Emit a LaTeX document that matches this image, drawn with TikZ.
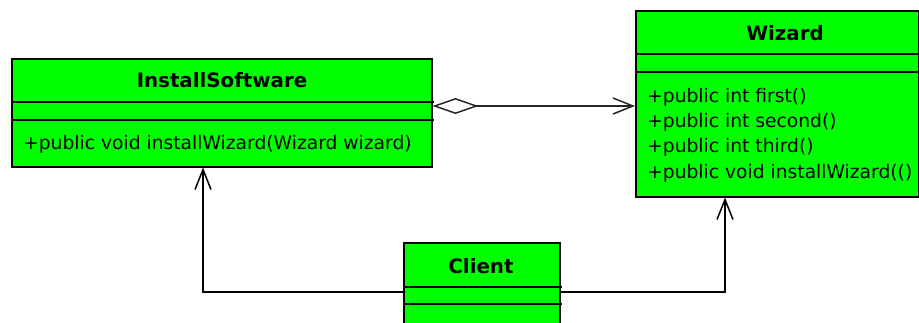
\documentclass[tikz,border=0pt]{standalone}
\usepackage{fontspec}
\setmainfont{DejaVu Sans}
\usetikzlibrary{arrows.meta}
\definecolor{umlgreen}{RGB}{0,255,0}
\begin{document}
\begin{tikzpicture}[x=1pt,y=-1pt,
  classbox/.style={draw=black, fill=umlgreen, line width=1.5pt, rectangle, inner sep=0pt, anchor=north west},
  classname/.style={font=\fontsize{19.8}{23}\selectfont\bfseries, inner sep=0pt},
  member/.style={font=\fontsize{18.7}{25}\selectfont, anchor=west, inner sep=0pt},
  divider/.style={line width=1.5pt},
  assoc/.style={line width=1.5pt, -{Straight Barb[length=20pt,width=16pt]}},
  aggr/.style={line width=1.5pt, draw=black!85, {Diamond[open,length=46pt,width=16pt]}-{Straight Barb[length=20pt,width=16pt]}}
]
\useasboundingbox (0,0) rectangle (919,322);
\clip (0,0) rectangle (919,322);

% InstallSoftware
\node[classbox, minimum width=420pt, minimum height=108pt] (is) at (11,58) {};
\node[classname] (isname) at (222,80) {InstallSoftware};
\draw[divider] (11,102) -- (434,102);
\draw[divider] (11,120) -- (434,120);
\node[member] (ism) at (23,144) {+public void installWizard(Wizard wizard)};

% Wizard
\node[classbox, minimum width=283pt, minimum height=186pt] (wz) at (635,10) {};
\node[classname] (wzname) at (785,33) {Wizard};
\draw[divider] (635,54) -- (919,54);
\draw[divider] (635,72) -- (919,72);
\node[member] (wz1) at (647,97) {+public int first()};
\node[member] (wz2) at (647,122) {+public int second()};
\node[member] (wz3) at (647,147) {+public int third()};
\node[member] (wz4) at (647,173) {+public void installWizard(()};

% Client
\node[classbox, minimum width=156pt, minimum height=110pt] (cl) at (403,242) {};
\node[classname] (clname) at (481,266) {Client};
\draw[divider] (403,287) -- (562,287);
\draw[divider] (403,304) -- (562,304);

% connectors
\draw[aggr] ([yshift=-48pt]is.north east) -- ([yshift=-96pt]wz.north west);
\draw[assoc] ([yshift=-50pt]cl.north west) -| ([xshift=192pt]is.south west);
\draw[assoc] ([yshift=-50pt]cl.north east) -| ([xshift=90pt]wz.south west);
\end{tikzpicture}
\end{document}
